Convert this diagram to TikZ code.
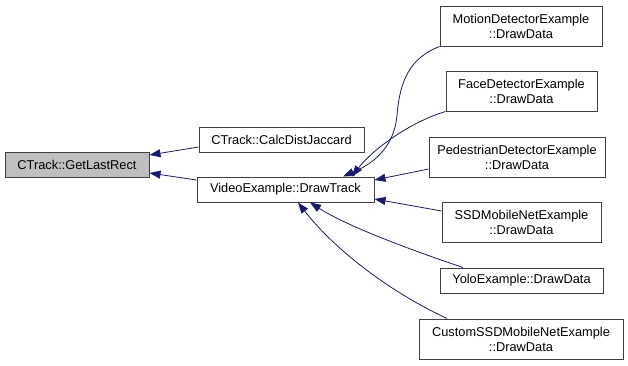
\documentclass[tikz,border=0pt]{standalone}
\usepackage{fontspec}
\setmainfont{Liberation Sans}
\usetikzlibrary{arrows.meta}
\definecolor{edgeblue}{HTML}{191970}
\definecolor{boxgray}{HTML}{BFBFBF}
\definecolor{boxline}{HTML}{404040}
\begin{document}
\begin{tikzpicture}[x=1pt,y=-1pt,
  fn/.style={draw=boxline, line width=1pt, fill=white, inner sep=0pt,
    align=center, font=\fontsize{12.8}{15}\selectfont},
  call/.style={draw=edgeblue, line width=0.8pt,
    -{Triangle[length=11pt,width=8pt]}, edgeblue},
]
\useasboundingbox (0,0) rectangle (628,365);

% functions
\node[fn, fill=boxgray, minimum width=144pt, minimum height=25pt] (last) at (77,164.5) {CTrack::GetLastRect};
\node[fn, minimum width=165pt, minimum height=25pt] (jac) at (281.5,139.5) {CTrack::CalcDistJaccard};
\node[fn, minimum width=177pt, minimum height=25pt] (track) at (285.5,189.5) {VideoExample::DrawTrack};

\node[fn, minimum width=162pt, minimum height=40pt] (motion) at (521,26) {MotionDetectorExample\\::DrawData};
\node[fn, minimum width=151pt, minimum height=40pt] (face) at (521.5,91) {FaceDetectorExample\\::DrawData};
\node[fn, minimum width=176pt, minimum height=40pt] (ped) at (517,157) {PedestrianDetectorExample\\::DrawData};
\node[fn, minimum width=159pt, minimum height=40pt] (ssd) at (521.5,222) {SSDMobileNetExample\\::DrawData};
\node[fn, minimum width=163pt, minimum height=25pt] (yolo) at (521.5,280.5) {YoloExample::DrawData};
\node[fn, minimum width=204pt, minimum height=40pt] (custom) at (521,339) {CustomSSDMobileNetExample\\::DrawData};

% calls into GetLastRect
\draw[call] ([shift={(0,7.5)}]jac.west) -- ([shift={(0,-9.5)}]last.east);
\draw[call] ([shift={(0,-9.5)}]track.west) -- ([shift={(0,8.5)}]last.east);

% calls into DrawTrack
\draw[call] (motion.south west) .. controls (410,58) and (400,80) .. (397,115)
  .. controls (394,150) and (370,165) .. ([shift={(57.5,0)}]track.north);
\draw[call] (face.south west) .. controls (410,122) and (372,150) .. ([shift={(66.5,0)}]track.north);
\draw[call] ([shift={(0,12)}]ped.west) -- ([shift={(0,-9.5)}]track.east);
\draw[call] ([shift={(0,-11)}]ssd.west) -- ([shift={(0,9.5)}]track.east);
\draw[call] ([shift={(-58.5,0)}]yolo.north) .. controls (420,253) and (350,228) .. ([shift={(24.5,0)}]track.south);
\draw[call] ([shift={(-74,0)}]custom.north) .. controls (390,292) and (335,250) .. ([shift={(12.5,0)}]track.south);
\end{tikzpicture}
\end{document}
